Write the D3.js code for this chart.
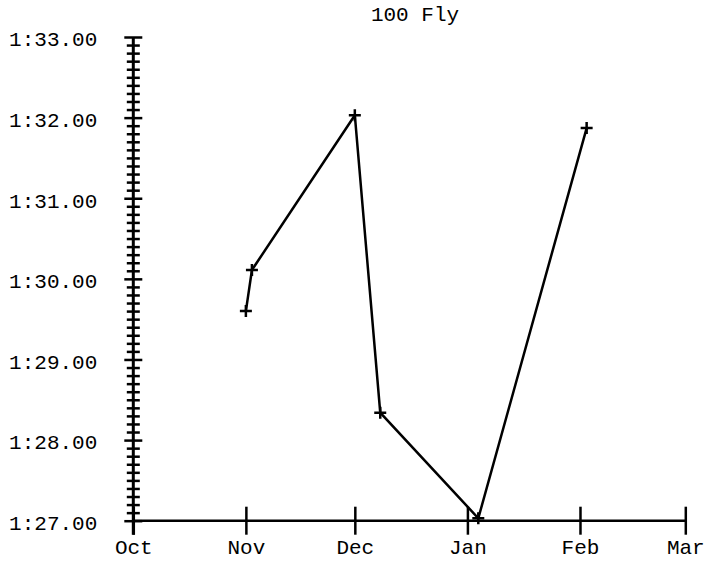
<!DOCTYPE html>
<html>
<head>
<meta charset="utf-8">
<script src="https://cdn.jsdelivr.net/npm/d3@7"></script>
<style>
  html, body { margin: 0; padding: 0; background: #fff; }
  svg { display: block; }
  text { font-family: "Liberation Mono", "Courier New", monospace; fill: #000; }
</style>
</head>
<body>
<svg id="chart" width="706" height="561"></svg>
<script>
// ---- data ----
const title = "100 Fly";
const swimDates = ["2023-11-01T00:00", "2023-11-02T16:00", "2023-12-01T00:00", "2023-12-08T00:00", "2024-01-04T00:00", "2024-02-02T20:00"];
const swimTimes = [89.60, 90.11, 92.03, 88.34, 87.03, 91.87]; // seconds
const yTickValues = [87, 88, 89, 90, 91, 92, 93];
const xTickLabels = ["Oct", "Nov", "Dec", "Jan", "Feb", "Mar"];
const xDomain = ["2023-10-01T00:00", "2024-03-01T00:00"];

// ---- layout ----
const svg = d3.select("#chart");
const x0 = 133.3, x1 = 685.3, yTop = 37, yBot = 520.7;
const fontSize = 21;
const parse = d3.timeParse("%Y-%m-%dT%H:%M");

const x = d3.scaleTime().domain(xDomain.map(parse)).range([x0, x1]);
const y = d3.scaleLinear().domain([87, 93]).range([yBot, yTop]);

const fmt = s => {
  const m = Math.floor(s / 60);
  const rest = s - m * 60;
  return m + ":" + (rest < 10 ? "0" : "") + rest.toFixed(2);
};

// minor ticks every 0.1 s
const minorTicks = d3.range(870, 931).map(v => v / 10).filter(v => Math.abs(v - Math.round(v)) > 1e-6);

// y axis - minor ticks
const yMinor = svg.append("g").attr("transform", `translate(${x0},0)`)
  .call(d3.axisLeft(y).tickValues(minorTicks).tickSize(0).tickFormat(""));
yMinor.select(".domain").remove();
yMinor.selectAll(".tick line").attr("x1", -6.5).attr("x2", 6.5).attr("stroke", "#000").attr("stroke-width", 2.5);

// y axis - major ticks with labels
const yMajor = svg.append("g").attr("transform", `translate(${x0},0)`)
  .call(d3.axisLeft(y).tickValues(yTickValues).tickSize(0).tickPadding(36).tickFormat(fmt));
yMajor.select(".domain").remove();
yMajor.selectAll(".tick line").attr("x1", -9).attr("x2", 9).attr("stroke", "#000").attr("stroke-width", 2.5);
yMajor.selectAll(".tick text").attr("font-size", fontSize).attr("dy", "0.42em")
  .style("font-family", "'Liberation Mono', 'Courier New', monospace");

// y axis line
svg.append("line").attr("x1", x0).attr("x2", x0).attr("y1", yTop).attr("y2", yBot + 14)
  .attr("stroke", "#000").attr("stroke-width", 3);

// x axis
const monthTicks = d3.timeMonth.range(parse(xDomain[0]), d3.timeDay.offset(parse(xDomain[1]), 1));
const xAxis = svg.append("g").attr("transform", `translate(0,${yBot})`)
  .call(d3.axisBottom(x).tickValues(monthTicks).tickSize(0).tickPadding(20)
    .tickFormat((d, i) => xTickLabels[i]));
xAxis.select(".domain").remove();
xAxis.selectAll(".tick line").attr("y1", -14).attr("y2", 14).attr("stroke", "#000").attr("stroke-width", 2.5);
xAxis.selectAll(".tick text").attr("font-size", fontSize).attr("dy", "0.62em")
  .style("font-family", "'Liberation Mono', 'Courier New', monospace");
svg.append("line").attr("x1", x0).attr("x2", x1).attr("y1", yBot).attr("y2", yBot)
  .attr("stroke", "#000").attr("stroke-width", 2.5);

// title
svg.append("text").attr("x", 415).attr("y", 21).attr("text-anchor", "middle")
  .attr("font-size", fontSize).text(title);

// data line
const pts = swimDates.map((d, i) => ({ date: parse(d), t: swimTimes[i] }));
svg.append("path").datum(pts)
  .attr("d", d3.line().x(d => x(d.date)).y(d => y(d.t)))
  .attr("fill", "none").attr("stroke", "#000").attr("stroke-width", 2.5);

// markers
svg.selectAll(".mk").data(pts).enter().append("path").attr("class", "mk")
  .attr("transform", d => `translate(${x(d.date)},${y(d.t)})`)
  .attr("d", "M-6,0H6M0,-6V6")
  .attr("stroke", "#000").attr("stroke-width", 2.5).attr("fill", "none");
</script>
</body>
</html>
